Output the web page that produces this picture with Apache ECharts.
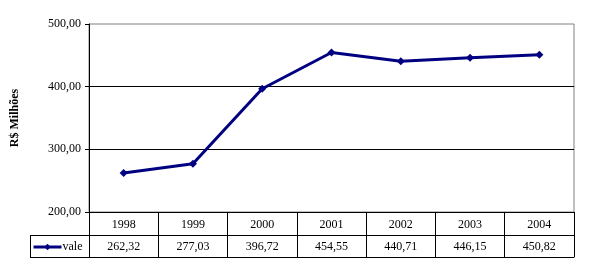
<!DOCTYPE html>
<html><head><meta charset="utf-8">
<script src="https://cdn.jsdelivr.net/npm/echarts@6/dist/echarts.min.js"></script>
<style>html,body{margin:0;padding:0;background:#fff}#c{width:589px;height:273px}</style>
</head><body><div id="c"></div>
<script>
const years = ['1998','1999','2000','2001','2002','2003','2004'];
const vale = [262.32, 277.03, 396.72, 454.55, 440.71, 446.15, 450.82];
const yTicks = [200, 300, 400, 500];
const seriesName = 'vale';
const yTitle = 'R$ Milhões';

const fmt = v => v.toFixed(2).replace('.', ',');
const serif = '"Liberation Serif", "Times New Roman", serif';
const chart = echarts.init(document.getElementById('c'), null, {renderer: 'canvas'});
const L = 89, R = 574, T = 24, B = 212;
chart.setOption({
  animation: false,
  backgroundColor: '#fff',
  textStyle: {fontFamily: serif},
  grid: {left: L, right: 589 - R, top: T, bottom: 273 - B, show: true, borderColor: '#808080', borderWidth: 1, backgroundColor: 'transparent'},
  legend: {
    left: 32, top: 241, padding: 0, itemWidth: 28, itemHeight: 8, itemGap: 0,
    data: [seriesName],
    lineStyle: {width: 3},
    textStyle: {fontFamily: serif, fontSize: 12, color: '#000', padding: [0, 0, 0, -4]}
  },
  xAxis: [
    {type: 'category', data: years, position: 'bottom', boundaryGap: true,
     axisLine: {show: true, lineStyle: {color: '#000', width: 1}},
     axisTick: {show: true, alignWithLabel: false, interval: 0, length: 45, lineStyle: {color: '#000'}},
     axisLabel: {interval: 0, fontFamily: serif, fontSize: 12, color: '#000', margin: 13, verticalAlign: 'middle'},
     splitLine: {show: false}},
    {type: 'category', data: years, position: 'bottom', offset: 23, boundaryGap: true,
     axisLine: {show: true, lineStyle: {color: '#000', width: 1}},
     axisTick: {show: false},
     axisLabel: {interval: 0, fontFamily: serif, fontSize: 12, color: '#000', margin: 12, verticalAlign: 'middle',
       formatter: (v, i) => fmt(vale[i])},
     splitLine: {show: false}},
    {type: 'category', data: years, position: 'bottom', offset: 45, boundaryGap: true,
     axisLine: {show: true, lineStyle: {color: '#000', width: 1}},
     axisTick: {show: false}, axisLabel: {show: false}, splitLine: {show: false}}
  ],
  yAxis: {
    type: 'value', min: yTicks[0], max: yTicks[yTicks.length - 1], interval: 100,
    name: yTitle, nameLocation: 'middle', nameRotate: 90, nameGap: 68,
    nameTextStyle: {fontFamily: serif, fontSize: 12, fontWeight: 'bold', color: '#000'},
    axisLine: {show: true, lineStyle: {color: '#000', width: 1}},
    axisTick: {show: true, length: 4, lineStyle: {color: '#000'}},
    axisLabel: {fontFamily: serif, fontSize: 12, color: '#000', margin: 8, formatter: v => fmt(v)},
    splitLine: {show: true, showMaxLine: false, lineStyle: {color: '#000', width: 1}}
  },
  series: [{
    name: seriesName, type: 'line', xAxisIndex: 0, data: vale,
    symbol: 'diamond', symbolSize: 8,
    itemStyle: {color: '#000080'},
    lineStyle: {color: '#000080', width: 3}
  }],
  graphic: [
    {type: 'line', shape: {x1: 30, y1: 235.5, x2: L, y2: 235.5}, style: {stroke: '#000', lineWidth: 1}},
    {type: 'line', shape: {x1: 30, y1: 257.5, x2: L, y2: 257.5}, style: {stroke: '#000', lineWidth: 1}},
    {type: 'line', shape: {x1: 30.5, y1: 235, x2: 30.5, y2: 258}, style: {stroke: '#000', lineWidth: 1}}
  ]
});
</script></body></html>
